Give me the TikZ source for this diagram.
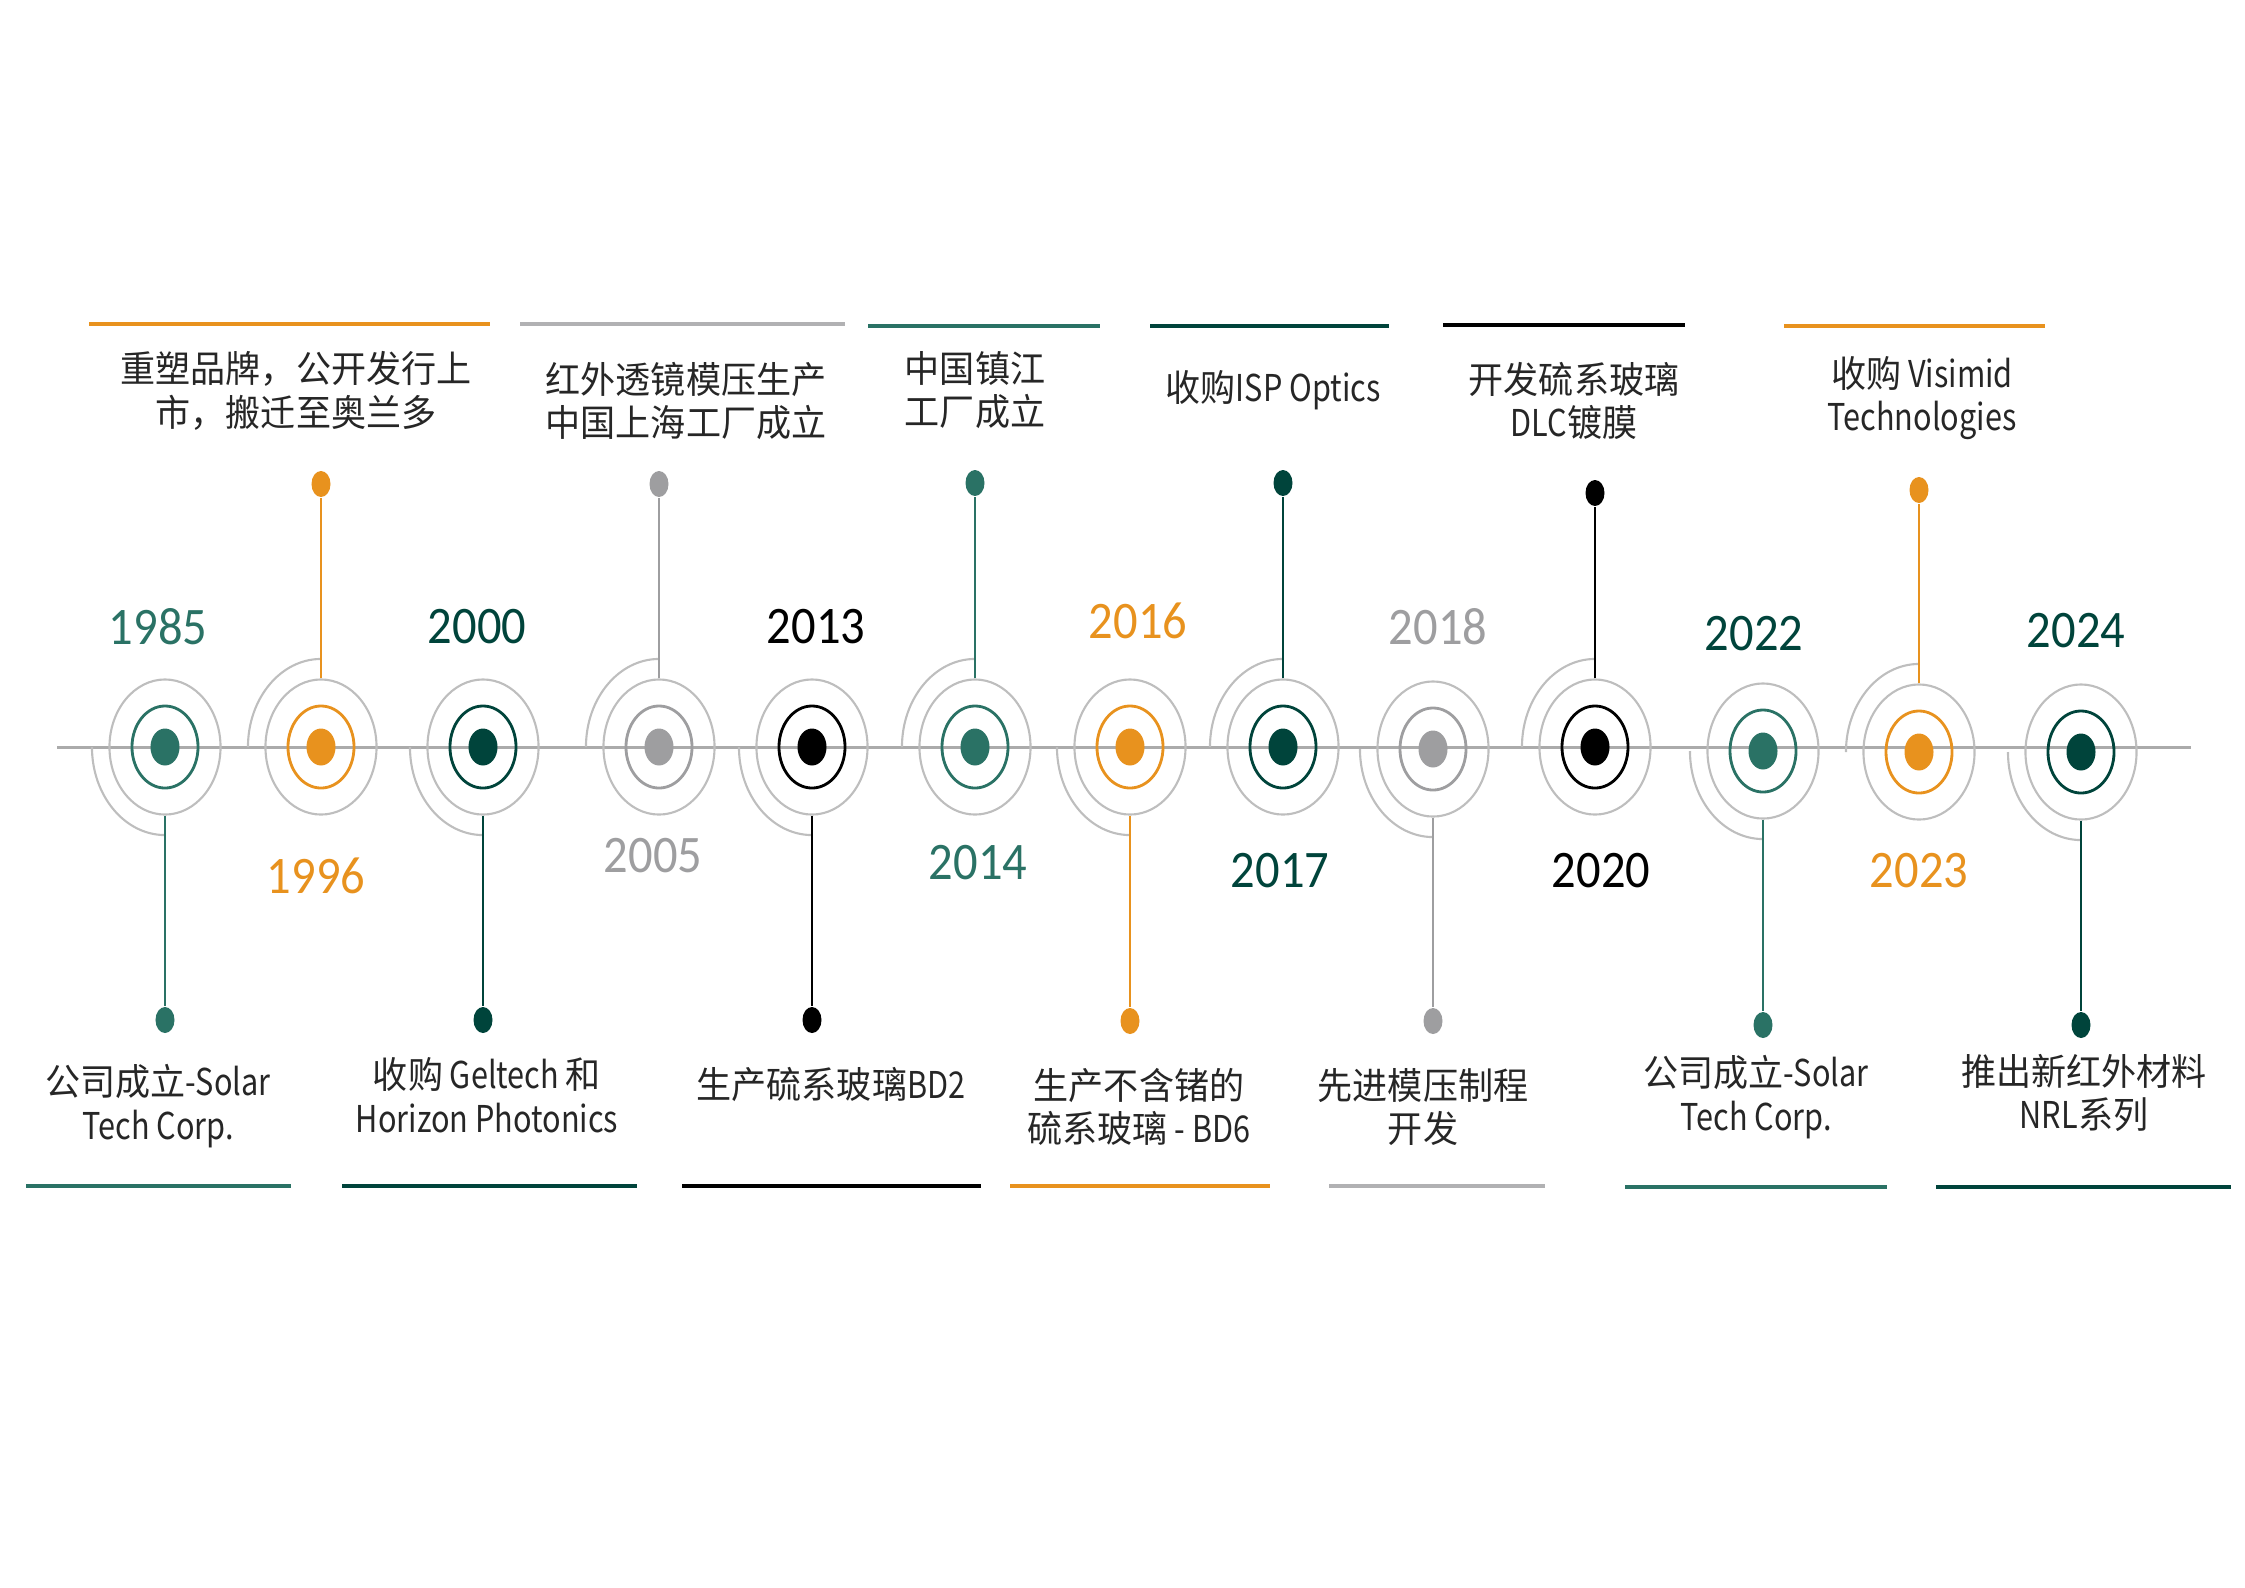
\documentclass[tikz,border=0pt]{standalone}
\usepackage{fontspec}
\setmainfont{Noto Sans CJK SC}[FakeStretch=0.95]
\newfontfamily\latinpart{Noto Sans CJK SC}[FakeStretch=0.83]
\newfontfamily\yearfont{Carlito}[FakeStretch=0.92]
\usepackage{tikz}
\usetikzlibrary{shapes.geometric}

\definecolor{tealc}{HTML}{2A7265}
\definecolor{deepc}{HTML}{00443B}
\definecolor{orangec}{HTML}{E8921E}
\definecolor{grayc}{HTML}{9E9EA0}
\definecolor{ringgray}{HTML}{BEBEBE}
\definecolor{txtc}{HTML}{262626}

\begin{document}
\begin{tikzpicture}[x=0.01cm,y=-0.01cm,
    every node/.style={inner sep=0pt},
    outer/.style={ellipse,draw=ringgray,line width=0.6pt,minimum width=1.11cm,minimum height=1.35cm},
    ring/.style={ellipse,draw=#1,line width=0.8pt,minimum width=0.66cm,minimum height=0.82cm},
    core/.style={ellipse,fill=#1,minimum width=0.29cm,minimum height=0.37cm},
    tip/.style={ellipse,fill=#1,minimum width=0.19cm,minimum height=0.26cm},
    stem/.style={draw=#1,line width=0.8pt},
    halo/.style={draw=ringgray,line width=0.6pt},
    axis/.style={draw=ringgray!90!black,line width=0.85pt},
    bar/.style={draw=#1,line width=1.3pt},
    year/.style={text=#1,font=\yearfont\fontsize{15}{18}\selectfont},
    label/.style={align=center,text=txtc,font=\fontsize{10.5}{12.4}\selectfont}]
\useasboundingbox (0,0) rectangle (2245,1587);

% time axis
\draw[axis] (57,747) -- (2191,747);

% 1985
\node[outer] (o1985) at (165,747) {};
\node[ring=tealc] (r1985) at (o1985) {};
\node[core=tealc] (c1985) at (o1985) {};
\draw[halo] (o1985.center) ++(-0.73cm,0) arc[start angle=180,end angle=270,x radius=0.73cm,y radius=0.88cm];
\node[tip=tealc] (t1985) at (165,1020) {};
\draw[stem=tealc] (o1985.south) -- (t1985);
\node[year=tealc] (y1985) at (158,627) {1985};
\node[label] (l1985) at (158,1106) {公司成立{\latinpart -Solar}\\{\latinpart Tech Corp.}};
\draw[bar=tealc] (26,1186) -- (291,1186);

% 1996
\node[outer] (o1996) at (321,747) {};
\node[ring=orangec] (r1996) at (o1996) {};
\node[core=orangec] (c1996) at (o1996) {};
\draw[halo] (o1996.center) ++(-0.73cm,0) arc[start angle=180,end angle=90,x radius=0.73cm,y radius=0.88cm];
\node[tip=orangec] (t1996) at (321,484) {};
\draw[stem=orangec] (o1996.north) -- (t1996);
\node[year=orangec] (y1996) at (316,876) {1996};
\node[label] (l1996) at (296,391) {重塑品牌，公开发行上\\市，搬迁至奥兰多};
\draw[bar=orangec] (89,324) -- (490,324);

% 2000
\node[outer] (o2000) at (483,747) {};
\node[ring=deepc] (r2000) at (o2000) {};
\node[core=deepc] (c2000) at (o2000) {};
\draw[halo] (o2000.center) ++(-0.73cm,0) arc[start angle=180,end angle=270,x radius=0.73cm,y radius=0.88cm];
\node[tip=deepc] (t2000) at (483,1020) {};
\draw[stem=deepc] (o2000.south) -- (t2000);
\node[year=deepc] (y2000) at (477,627) {2000};
\node[label] (l2000) at (487,1095) {收购{\latinpart\ Geltech }和\\{\latinpart Horizon Photonics}};
\draw[bar=deepc] (342,1186) -- (637,1186);

% 2005
\node[outer] (o2005) at (659,747) {};
\node[ring=grayc] (r2005) at (o2005) {};
\node[core=grayc] (c2005) at (o2005) {};
\draw[halo] (o2005.center) ++(-0.73cm,0) arc[start angle=180,end angle=90,x radius=0.73cm,y radius=0.88cm];
\node[tip=grayc] (t2005) at (659,484) {};
\draw[stem=grayc] (o2005.north) -- (t2005);
\node[year=grayc] (y2005) at (653,856) {2005};
\node[label] (l2005) at (686,401) {红外透镜模压生产\\中国上海工厂成立};
\draw[bar=grayc!80] (520,324) -- (845,324);

% 2013
\node[outer] (o2013) at (812,747) {};
\node[ring=black] (r2013) at (o2013) {};
\node[core=black] (c2013) at (o2013) {};
\draw[halo] (o2013.center) ++(-0.73cm,0) arc[start angle=180,end angle=270,x radius=0.73cm,y radius=0.88cm];
\node[tip=black] (t2013) at (812,1020) {};
\draw[stem=black] (o2013.south) -- (t2013);
\node[year=black] (y2013) at (816,627) {2013};
\node[label] (l2013) at (831,1084) {生产硫系玻璃{\latinpart BD2}};
\draw[bar=black] (682,1186) -- (981,1186);

% 2014
\node[outer] (o2014) at (975,747) {};
\node[ring=tealc] (r2014) at (o2014) {};
\node[core=tealc] (c2014) at (o2014) {};
\draw[halo] (o2014.center) ++(-0.73cm,0) arc[start angle=180,end angle=90,x radius=0.73cm,y radius=0.88cm];
\node[tip=tealc] (t2014) at (975,483) {};
\draw[stem=tealc] (o2014.north) -- (t2014);
\node[year=tealc] (y2014) at (978,863) {2014};
\node[label] (l2014) at (975,390) {中国镇江\\工厂成立};
\draw[bar=tealc] (868,326) -- (1100,326);

% 2016
\node[outer] (o2016) at (1130,747) {};
\node[ring=orangec] (r2016) at (o2016) {};
\node[core=orangec] (c2016) at (o2016) {};
\draw[halo] (o2016.center) ++(-0.73cm,0) arc[start angle=180,end angle=270,x radius=0.73cm,y radius=0.88cm];
\node[tip=orangec] (t2016) at (1130,1021) {};
\draw[stem=orangec] (o2016.south) -- (t2016);
\node[year=orangec] (y2016) at (1138,621) {2016};
\node[label] (l2016) at (1139,1107) {生产不含锗的\\硫系玻璃{\latinpart\ - BD6}};
\draw[bar=orangec] (1010,1186) -- (1270,1186);

% 2017
\node[outer] (o2017) at (1283,747) {};
\node[ring=deepc] (r2017) at (o2017) {};
\node[core=deepc] (c2017) at (o2017) {};
\draw[halo] (o2017.center) ++(-0.73cm,0) arc[start angle=180,end angle=90,x radius=0.73cm,y radius=0.88cm];
\node[tip=deepc] (t2017) at (1283,483) {};
\draw[stem=deepc] (o2017.north) -- (t2017);
\node[year=deepc] (y2017) at (1280,871) {2017};
\node[label] (l2017) at (1273,390) {收购{\latinpart ISP Optics}};
\draw[bar=deepc] (1150,326) -- (1389,326);

% 2018
\node[outer] (o2018) at (1433,749) {};
\node[ring=grayc] (r2018) at (o2018) {};
\node[core=grayc] (c2018) at (o2018) {};
\draw[halo] (o2018.center) ++(-0.73cm,0) arc[start angle=180,end angle=270,x radius=0.73cm,y radius=0.88cm];
\node[tip=grayc] (t2018) at (1433,1021) {};
\draw[stem=grayc] (o2018.south) -- (t2018);
\node[year=grayc] (y2018) at (1438,627) {2018};
\node[label] (l2018) at (1423,1107) {先进模压制程\\开发};
\draw[bar=grayc!80] (1329,1186) -- (1545,1186);

% 2020
\node[outer] (o2020) at (1595,747) {};
\node[ring=black] (r2020) at (o2020) {};
\node[core=black] (c2020) at (o2020) {};
\draw[halo] (o2020.center) ++(-0.73cm,0) arc[start angle=180,end angle=90,x radius=0.73cm,y radius=0.88cm];
\node[tip=black] (t2020) at (1595,493) {};
\draw[stem=black] (o2020.north) -- (t2020);
\node[year=black] (y2020) at (1601,871) {2020};
\node[label] (l2020) at (1574,401) {开发硫系玻璃\\{\latinpart DLC}镀膜};
\draw[bar=black] (1443,325) -- (1685,325);

% 2022
\node[outer] (o2022) at (1763,751) {};
\node[ring=tealc] (r2022) at (o2022) {};
\node[core=tealc] (c2022) at (o2022) {};
\draw[halo] (o2022.center) ++(-0.73cm,0) arc[start angle=180,end angle=270,x radius=0.73cm,y radius=0.88cm];
\node[tip=tealc] (t2022) at (1763,1025) {};
\draw[stem=tealc] (o2022.south) -- (t2022);
\node[year=deepc] (y2022) at (1754,634) {2022};
\node[label] (l2022) at (1756,1097) {公司成立{\latinpart -Solar}\\{\latinpart Tech Corp.}};
\draw[bar=tealc] (1625,1187) -- (1887,1187);

% 2023
\node[outer] (o2023) at (1919,752) {};
\node[ring=orangec] (r2023) at (o2023) {};
\node[core=orangec] (c2023) at (o2023) {};
\draw[halo] (o2023.center) ++(-0.73cm,0) arc[start angle=180,end angle=90,x radius=0.73cm,y radius=0.88cm];
\node[tip=orangec] (t2023) at (1919,490) {};
\draw[stem=orangec] (o2023.north) -- (t2023);
\node[year=orangec] (y2023) at (1919,871) {2023};
\node[label] (l2023) at (1922,398) {收购{\latinpart\ Visimid}\\{\latinpart Technologies}};
\draw[bar=orangec] (1784,326) -- (2045,326);

% 2024
\node[outer] (o2024) at (2081,752) {};
\node[ring=deepc] (r2024) at (o2024) {};
\node[core=deepc] (c2024) at (o2024) {};
\draw[halo] (o2024.center) ++(-0.73cm,0) arc[start angle=180,end angle=270,x radius=0.73cm,y radius=0.88cm];
\node[tip=deepc] (t2024) at (2081,1025) {};
\draw[stem=deepc] (o2024.south) -- (t2024);
\node[year=deepc] (y2024) at (2076,631) {2024};
\node[label] (l2024) at (2084,1093) {推出新红外材料\\{\latinpart NRL}系列};
\draw[bar=deepc] (1936,1187) -- (2231,1187);
\end{tikzpicture}
\end{document}
